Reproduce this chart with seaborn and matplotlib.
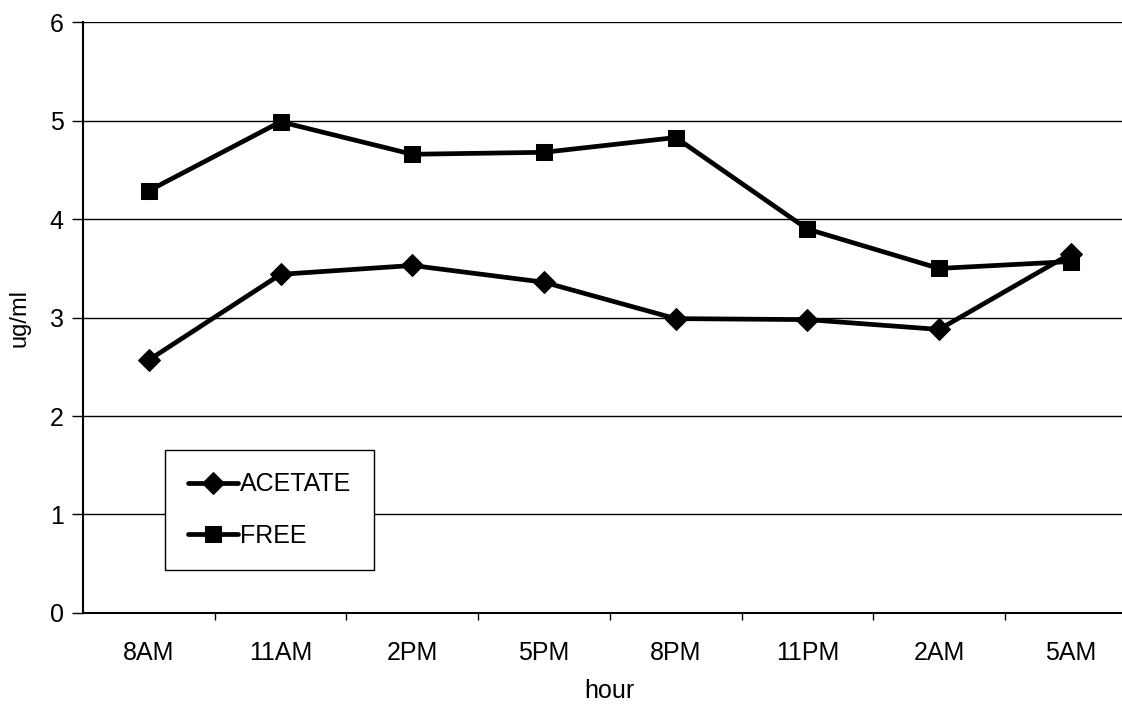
import matplotlib
matplotlib.use("Agg")
import matplotlib.pyplot as plt
import seaborn as sns
import pandas as pd
import numpy as np

hours = ["8AM", "11AM", "2PM", "5PM", "8PM", "11PM", "2AM", "5AM"]
acetate = [2.57, 3.44, 3.53, 3.36, 2.99, 2.98, 2.88, 3.65]
free = [4.29, 4.99, 4.66, 4.68, 4.83, 3.90, 3.50, 3.57]
series_names = ["ACETATE", "FREE"]
y_ticks = [0, 1, 2, 3, 4, 5, 6]

df = pd.DataFrame({
    "hour": hours * 2,
    "value": acetate + free,
    "series": [series_names[0]] * len(hours) + [series_names[1]] * len(hours),
})

sns.set_theme(style="white")
plt.rcParams["font.family"] = ["Liberation Sans", "DejaVu Sans"]
plt.rcParams["text.color"] = "black"
plt.rcParams["axes.labelcolor"] = "black"

fig = plt.figure(figsize=(11.22, 7.11), dpi=100)
ax = fig.add_axes([0.074, 0.138, 0.939, 0.8305])

sns.lineplot(
    data=df, x="hour", y="value", hue="series", style="series",
    markers={"ACETATE": "D", "FREE": "s"}, dashes=False,
    palette={"ACETATE": "black", "FREE": "black"},
    linewidth=3.4, markersize=12, markeredgecolor="black",
    sort=False, ax=ax, legend=True,
)
for line in ax.get_lines():
    if line.get_marker() == "D":
        line.set_markersize(11)

ax.set_ylim(0, 6)
ax.set_xlim(-0.5, len(hours) - 0.5)
ax.set_yticks(y_ticks)
ax.set_xticks(range(len(hours)))
ax.set_xticklabels(hours)
ax.set_xticks(np.arange(0.5, len(hours) - 0.5, 1.0), minor=True)

ax.yaxis.grid(True, color="black", linewidth=1.0)
ax.xaxis.grid(False)
ax.set_axisbelow(True)

for s in ["top", "right"]:
    ax.spines[s].set_visible(False)
for s in ["left", "bottom"]:
    ax.spines[s].set_color("black")
    ax.spines[s].set_linewidth(1.5)

ax.tick_params(axis="x", which="major", length=0, pad=20, labelsize=18, colors="black")
ax.tick_params(axis="x", which="minor", length=5, width=1, direction="out", color="black", bottom=True)
ax.tick_params(axis="y", which="major", length=8, width=1, direction="out", labelsize=18, pad=6, colors="black", left=True)

ax.set_xlabel("hour", fontsize=18, color="black", labelpad=10)
ax.set_ylabel("ug/ml", fontsize=17, color="black", labelpad=14)

handles, labels = ax.get_legend_handles_labels()
leg = ax.legend(
    handles, labels, loc="upper left", bbox_to_anchor=(0.078, 0.276),
    borderaxespad=0, frameon=True, fancybox=False, fontsize=18,
    handlelength=2.0, handletextpad=0.1, labelspacing=1.1,
    borderpad=0.9, edgecolor="black",
)
for t in leg.get_texts():
    t.set_color("black")
leg.get_frame().set_linewidth(1.0)
leg.get_frame().set_facecolor("white")
leg.get_frame().set_alpha(1)

fig.savefig("out.png", dpi=100, facecolor="white")
